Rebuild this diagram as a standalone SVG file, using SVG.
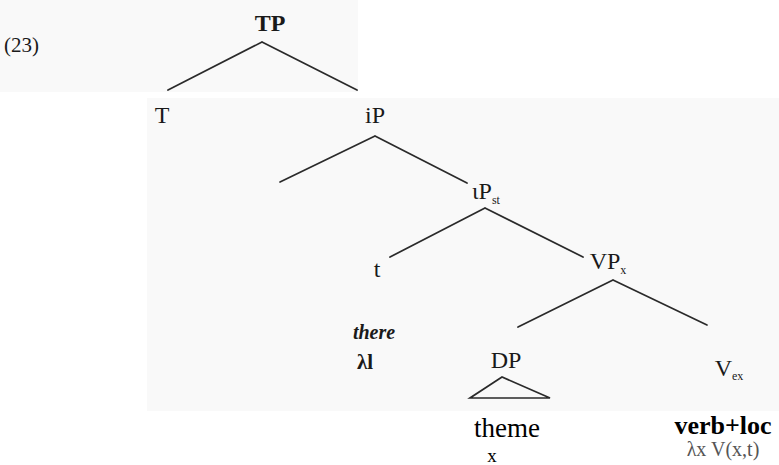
<svg xmlns="http://www.w3.org/2000/svg" width="779" height="465" viewBox="0 0 779 465">
<style>
.lbl{font-family:"Liberation Serif","Times New Roman",serif;font-size:24px;fill:#1a1a1a;text-anchor:middle}
.sub{font-size:12px}
.edge{stroke:#2a2a2a;stroke-width:1.7;fill:none;stroke-linecap:round}
.bg{fill:#f9f9f9}
</style>
<rect width="779" height="465" fill="#ffffff"/>
<rect class="bg" x="0" y="0" width="358" height="92"/>
<rect class="bg" x="147" y="98" width="632" height="313"/>
<g id="connectors">
<path class="edge" d="M262,42 L168,90 M262,42 L357,90"/>
<path class="edge" d="M375,136 L280,182 M375,136 L467,183"/>
<path class="edge" d="M485,208 L390,257 M485,208 L583,257"/>
<path class="edge" d="M613,280 L518,327 M613,280 L707,325"/>
</g>
<g id="ex"><text class="lbl" x="4" y="52" style="text-anchor:start;font-size:21px">(23)</text></g>
<g id="TP"><text class="lbl" x="270" y="31" font-weight="bold">TP</text></g>
<g id="T"><text class="lbl" x="162" y="123">T</text></g>
<g id="iP"><text class="lbl" x="375" y="123">iP</text></g>
<g id="iPst"><text class="lbl" x="486" y="199">ιP<tspan class="sub" dy="5">st</tspan></text></g>
<g id="t"><text class="lbl" x="377" y="277">t</text></g>
<g id="VP"><text class="lbl" x="608" y="269">VP<tspan class="sub" dy="5">x</tspan></text></g>
<g id="there"><text class="lbl" x="374" y="339" font-style="italic" font-weight="bold" style="font-size:20px">there</text>
<text class="lbl" x="365" y="369" font-weight="bold" style="font-size:21px">λl</text></g>
<g id="DP"><text class="lbl" x="506" y="368">DP</text>
<path class="edge" d="M502,377 L470,398 L550,398 Z"/>
<text class="lbl" x="507" y="437" style="font-size:27px;fill:#000">theme</text>
<text class="lbl" x="492" y="462" style="font-size:19px;fill:#000">x</text></g>
<g id="V"><text class="lbl" x="729" y="376">V<tspan class="sub" dy="4">ex</tspan></text>
<text class="lbl" x="723" y="434" font-weight="bold" style="font-size:26px;fill:#000">verb+loc</text>
<text class="lbl" x="723" y="456" style="font-size:20px;fill:#555">λx V(x,t)</text></g>
</svg>
